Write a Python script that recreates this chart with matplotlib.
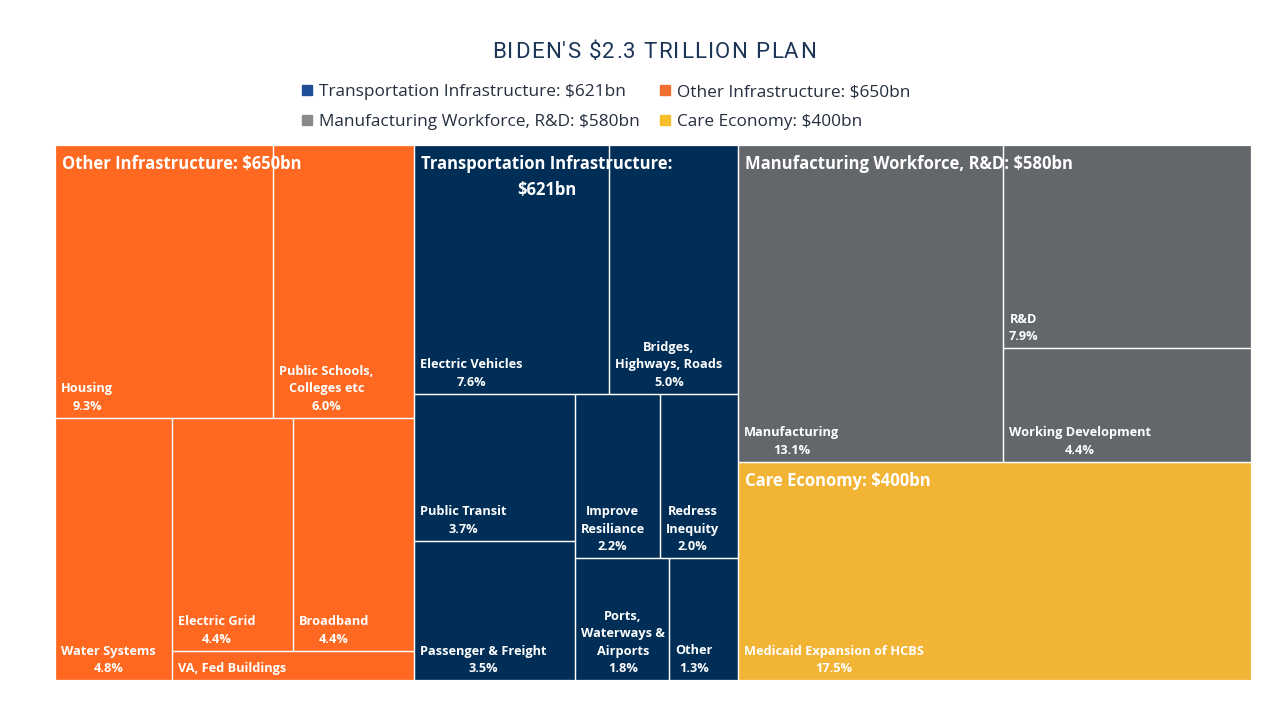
import matplotlib.pyplot as plt
from matplotlib.patches import Rectangle
from matplotlib.lines import Line2D

# spend shares (% of the $2.3tn plan)
groups = ['Other Infrastructure', 'Transportation Infrastructure',
          'Manufacturing Workforce, R&D', 'Care Economy']
group_bn = [650, 621, 580, 400]
group_colors = ['#FE6820', '#002E57', '#63666A', '#F1B434']
legend_colors = ['#F07030', '#1F4E96', '#8A8A8A', '#F5BE2A']

other_items = ['Housing', 'Public Schools, Colleges etc', 'Water Systems',
               'Electric Grid', 'Broadband', 'VA, Fed Buildings']
other_pct = [9.3, 6.0, 4.8, 4.4, 4.4, 1.1]

transport_items = ['Electric Vehicles', 'Bridges, Highways, Roads', 'Public Transit',
                   'Passenger & Freight', 'Improve Resiliance', 'Redress Inequity',
                   'Ports, Waterways & Airports', 'Other']
transport_pct = [7.6, 5.0, 3.7, 3.5, 2.2, 2.0, 1.8, 1.3]

manuf_items = ['Manufacturing', 'R&D', 'Working Development']
manuf_pct = [13.1, 7.9, 4.4]

care_items = ['Medicaid Expansion of HCBS']
care_pct = [17.5]

children = [(other_items, other_pct), (transport_items, transport_pct),
            (manuf_items, manuf_pct), (care_items, care_pct)]

FONT = 'Open Sans'
RHO = 0.85  # preferred cell width/height used by the squarify cost


def squarify(values, x, y, w, h):
    """Squarified layout; y grows downwards. Returns (x, y, w, h) per value."""
    total = float(sum(values))
    areas = [v * w * h / total for v in values]
    rects = []
    i = 0
    while i < len(areas):
        horiz = w <= h
        side = w if horiz else h

        def worst(row):
            t = sum(row) / side
            score = 0
            for a in row:
                q = (a / t) / t if horiz else t / (a / t)
                score = max(score, q / RHO, RHO / q)
            return score

        row = [areas[i]]
        best = worst(row)
        j = i + 1
        while j < len(areas):
            s = worst(row + [areas[j]])
            if s > best:
                break
            row.append(areas[j])
            best = s
            j += 1
        t = sum(row) / side
        if horiz:
            cx = x
            for a in row:
                rects.append((cx, y, a / t, t))
                cx += a / t
            y += t
            h -= t
        else:
            cy = y
            for a in row:
                rects.append((x, cy, t, a / t))
                cy += a / t
            x += t
            w -= t
        i = j
    return rects


fig = plt.figure(figsize=(12.8, 7.2), dpi=100)
renderer = fig.canvas.get_renderer()

W, H = 1196, 535
ax = fig.add_axes([55 / 1280, 40 / 720, W / 1280, H / 720])
ax.set_xlim(0, W)
ax.set_ylim(H, 0)
ax.axis('off')


def text_width(s, **kw):
    t = fig.text(0, 0, s, **kw)
    wd = t.get_window_extent(renderer).width
    t.remove()
    return wd


def wrap(name, maxw, **kw):
    words = name.split(' ')
    lines = [words[0]]
    for word in words[1:]:
        trial = lines[-1] + ' ' + word
        if text_width(trial, **kw) <= maxw:
            lines[-1] = trial
        else:
            lines.append(word)
    return '\n'.join(lines)


group_kw = dict(family=FONT, fontsize=12, fontweight='bold')
leaf_kw = dict(family=FONT, fontsize=9.2, fontweight='bold')

group_tot = [sum(p) for _, p in children]
order = sorted(range(len(groups)), key=lambda k: -group_tot[k])
group_rects = squarify([group_tot[k] for k in order], 0, 0, W, H)

for k, (gx, gy, gw, gh) in zip(order, group_rects):
    names, pcts = children[k]
    leaves = squarify(pcts, gx, gy, gw, gh)
    for (lx, ly, lw, lh) in leaves:
        ax.add_patch(Rectangle((lx, ly), lw, lh, facecolor=group_colors[k],
                               edgecolor='none', zorder=1))
    glabel = wrap(f'{groups[k]}: ${group_bn[k]}bn', gw - 14, **group_kw)
    ax.text(gx + 7, gy + 10, glabel, color='white', ha='left', va='top',
            multialignment='center', linespacing=1.55, zorder=2, **group_kw)
    for (lx, ly, lw, lh), name, p in zip(leaves, names, pcts):
        ax.add_patch(Rectangle((lx, ly), lw, lh, facecolor='none',
                               edgecolor='white', linewidth=0.9, zorder=3))
        label = wrap(name, lw - 10, **leaf_kw)
        nlines = label.count('\n') + 2
        if nlines * 18 + 6 <= lh:
            label += f'\n{p:.1f}%'
        ax.text(lx + 6, ly + lh - 5, label, color='white', ha='left', va='bottom',
                multialignment='center', linespacing=1.45, zorder=4, **leaf_kw)

# title with letter spacing
title = "BIDEN'S $2.3 TRILLION PLAN"
title_kw = dict(family='Roboto', fontsize=16, color='#1D3557')
track = 1.3
widths = [text_width(c, **title_kw) for c in title]
total = sum(widths) + track * (len(title) - 1)
tx = 654 - total / 2
for c, cw in zip(title, widths):
    fig.text(tx / 1280, 1 - 52 / 720, c, ha='left', va='center', **title_kw)
    tx += cw + track

handles = [Line2D([], [], marker='s', linestyle='none', markersize=6.5,
                  color=legend_colors[k]) for k in [1, 2, 0, 3]]
labels = [f'{groups[k]}: ${group_bn[k]}bn' for k in [1, 2, 0, 3]]
fig.legend(handles, labels, ncol=2, loc='center left',
           bbox_to_anchor=(291 / 1280, 1 - 107 / 720), frameon=False,
           prop=dict(family=FONT, size=12.4), labelcolor='#252F3F',
           handlelength=0.8, handletextpad=0.3, columnspacing=1.1,
           labelspacing=0.8, borderpad=0)

fig.savefig('out.png', dpi=100)
